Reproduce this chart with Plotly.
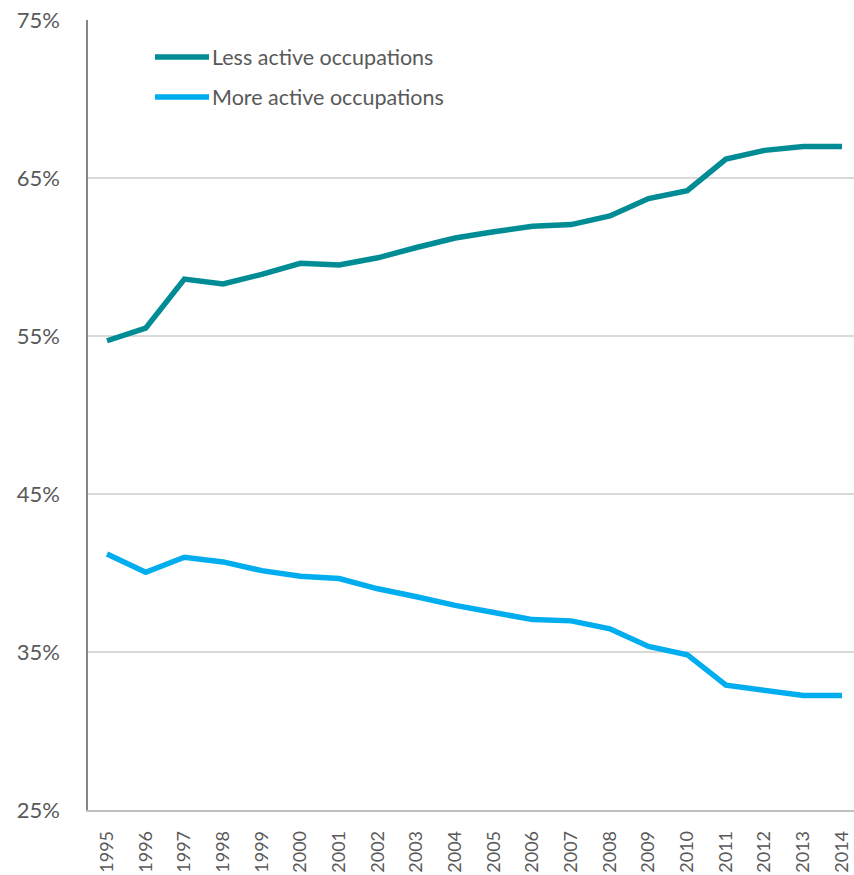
import plotly.graph_objects as go

years = list(range(1995, 2015))
less_active = [54.7, 55.5, 58.6, 58.3, 58.9, 59.6, 59.5, 59.95, 60.6, 61.2,
               61.6, 61.95, 62.05, 62.6, 63.7, 64.2, 66.2, 66.75, 67.0, 67.0]
more_active = [41.2, 40.05, 41.0, 40.7, 40.15, 39.8, 39.65, 39.0, 38.5, 37.95,
               37.5, 37.05, 36.97, 36.47, 35.35, 34.83, 32.9, 32.57, 32.25, 32.25]
series_names = ["Less active occupations", "More active occupations"]
series_colors = ["#008C95", "#00AEEF"]
y_ticks = [25, 35, 45, 55, 65, 75]

FONT = "Lato"
TXT = "#595959"

# plot area spans x 88..854, y 20..810 on the page
PL, PT, PW, PH = 88, 20, 766, 790

fig = go.Figure()
for name, vals, col in zip(series_names, [less_active, more_active], series_colors):
    fig.add_trace(go.Scatter(x=years, y=vals, mode="lines", name=name,
                             line=dict(color=col, width=5.5), showlegend=False))

# manual legend
for i, (name, col) in enumerate(zip(series_names, series_colors)):
    ypx = 57 + 40 * i
    yp = 1 - (ypx - PT) / PH
    fig.add_shape(type="line", xref="paper", yref="paper",
                  x0=(155 - PL) / PW, x1=(209 - PL) / PW, y0=yp, y1=yp,
                  line=dict(color=col, width=5.5))
    fig.add_annotation(xref="paper", yref="paper", x=(210 - PL) / PW, y=yp,
                       text=name, showarrow=False, xanchor="left", yanchor="middle",
                       font=dict(family=FONT, size=21.5, color=TXT))

fig.update_layout(
    width=854, height=875,
    margin=dict(l=PL, r=0, t=PT, b=875 - PT - PH),
    paper_bgcolor="white", plot_bgcolor="white",
    font=dict(family=FONT, color=TXT),
    showlegend=False,
)
fig.update_xaxes(range=[1994.509, 2014.31], tickvals=years,
                 ticktext=[str(y) for y in years], tickangle=-90,
                 tickfont=dict(family=FONT, size=18, color=TXT),
                 showgrid=False, showline=True, linecolor="#BFBFBF", linewidth=1.5,
                 ticks="", ticklabelstandoff=12, zeroline=False, automargin=False)
fig.update_yaxes(range=[25, 75], tickvals=y_ticks,
                 ticktext=[f"{v}%" for v in y_ticks],
                 tickfont=dict(family=FONT, size=22, color=TXT),
                 showgrid=True, gridcolor="#D9D9D9", gridwidth=1.5,
                 showline=True, linecolor="#868686", linewidth=1.5,
                 ticks="", ticklabelstandoff=22, zeroline=False, automargin=False)

fig.write_html("out.html", config={"displayModeBar": False},
               post_script="document.body.style.margin='0';document.body.style.padding='0';")
